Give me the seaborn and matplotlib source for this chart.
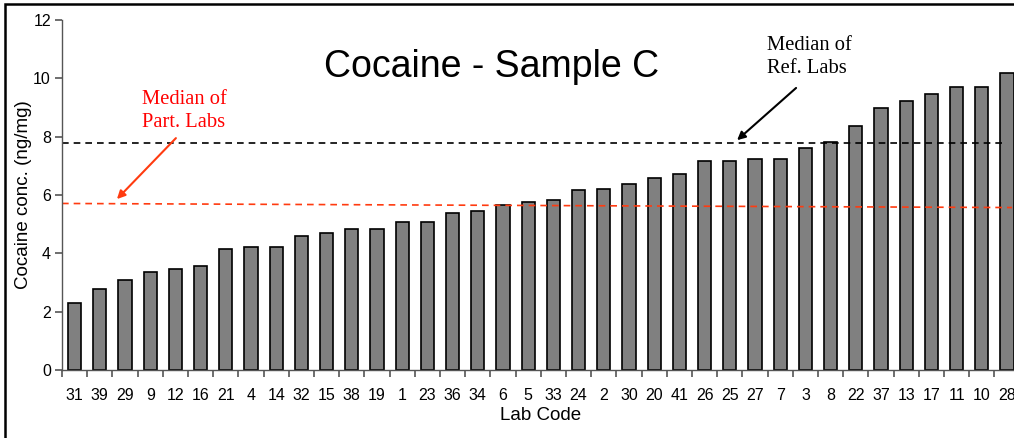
import matplotlib
matplotlib.use("Agg")
import matplotlib.pyplot as plt
import matplotlib.ticker as ticker
from matplotlib.patches import Rectangle
import seaborn as sns

sns.set_style("ticks")
plt.rcParams["font.family"] = ["Liberation Sans", "DejaVu Sans"]
plt.rcParams["text.color"] = "black"
plt.rcParams["axes.labelcolor"] = "black"
plt.rcParams["xtick.color"] = "#555555"
plt.rcParams["ytick.color"] = "#555555"
plt.rcParams["xtick.minor.size"] = 5
plt.rcParams["xtick.major.size"] = 0
plt.rcParams["ytick.major.size"] = 5

lab_codes = ["31", "39", "29", "9", "12", "16", "21", "4", "14", "32", "15", "38", "19",
             "1", "23", "36", "34", "6", "5", "33", "24", "2", "30", "20", "41", "26",
             "25", "27", "7", "3", "8", "22", "37", "13", "17", "11", "10", "28"]
cocaine = [2.30, 2.78, 3.09, 3.36, 3.45, 3.57, 4.16, 4.22, 4.22, 4.59, 4.70, 4.84, 4.84,
           5.06, 5.06, 5.39, 5.45, 5.65, 5.77, 5.84, 6.16, 6.22, 6.38, 6.59, 6.71, 7.18,
           7.18, 7.22, 7.22, 7.61, 7.82, 8.35, 8.99, 9.21, 9.47, 9.69, 9.69, 10.17]
median_ref = 7.79
median_part = (5.71, 5.57)  # drawn line drifts slightly

fig = plt.figure(figsize=(10.14, 4.38), dpi=100)
ax = fig.add_axes([62 / 1014, 68 / 438, 957.6 / 1014, 350 / 438])

sns.barplot(x=lab_codes, y=cocaine, order=lab_codes, color="#808080", saturation=1,
            edgecolor="black", linewidth=1.2, width=0.53, ax=ax)

n = len(lab_codes)
ax.set_xlim(-0.5, n - 0.5)
ax.set_ylim(0, 12)
ax.yaxis.set_major_locator(ticker.MultipleLocator(2))

ax.plot([-0.5, n - 1.2], [median_ref, median_ref], color="black", lw=1.2,
        linestyle=(0, (4, 3)))
ax.plot([-0.5, n - 0.8], list(median_part), color="#ff3b10", lw=1.2,
        linestyle=(0, (4, 3)))

# spines / ticks
for s in ["top", "right"]:
    ax.spines[s].set_visible(False)
for s in ["left", "bottom"]:
    ax.spines[s].set_color("#555555")
    ax.spines[s].set_linewidth(1.0)
ax.xaxis.set_minor_locator(ticker.FixedLocator([i + 0.5 for i in range(-1, n)]))
ax.tick_params(axis="x", which="major", bottom=True, length=0, pad=13, labelsize=11.5,
               labelcolor="black")
ax.tick_params(axis="x", which="minor", bottom=True, length=5, width=1.2, direction="out")
ax.tick_params(axis="y", which="major", left=True, length=5, width=1.2,
               labelcolor="black", direction="out", pad=3, labelsize=11.5)
ax.set_xlabel("Lab Code", fontsize=13.5, labelpad=3)
ax.set_ylabel("Cocaine conc. (ng/mg)", fontsize=13.5, labelpad=1)

ax.text(16.56, 10.39, "Cocaine - Sample C", fontsize=27, ha="center", va="center")

serif = ["Liberation Serif", "DejaVu Serif"]
ax.text(2.67, 8.88, "Median of\nPart. Labs", family=serif, fontsize=14.8, color="red",
        ha="left", va="center", linespacing=1.35)
ax.annotate("", xy=(1.68, 5.86), xytext=(4.02, 7.95),
            arrowprops=dict(arrowstyle="-|>", color="#ff3b10", lw=1.5, mutation_scale=12,
                            shrinkA=0, shrinkB=0))
ax.text(27.48, 10.73, "Median of\nRef. Labs", family=serif, fontsize=14.8, color="black",
        ha="left", va="center", linespacing=1.35)
ax.annotate("", xy=(26.29, 7.88), xytext=(28.63, 9.67),
            arrowprops=dict(arrowstyle="-|>", color="black", lw=1.5, mutation_scale=12,
                            shrinkA=0, shrinkB=0))

# outer chart-area frame (cut off at right and bottom like the source)
fig.patches.append(Rectangle((5 / 1014, -0.1), 1.2, (438 - 4) / 438 + 0.1,
                             transform=fig.transFigure, fill=False,
                             edgecolor="black", lw=1.8))

fig.savefig("out.png", dpi=100)
